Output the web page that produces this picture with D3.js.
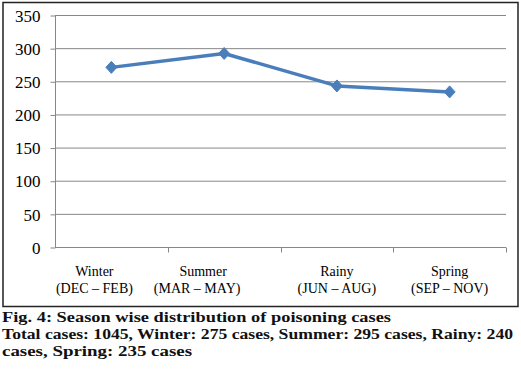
<!DOCTYPE html>
<html>
<head>
<meta charset="utf-8">
<script src="https://cdn.jsdelivr.net/npm/d3@7"></script>
<style>
  html, body { margin: 0; padding: 0; background: #fff; }
  svg { display: block; }
</style>
</head>
<body>
<svg id="chart" width="521" height="378"></svg>
<script>
// ---- data ----
const seasons = ["Winter", "Summer", "Rainy", "Spring"];
const monthRanges = ["(DEC \u2013 FEB)", "(MAR \u2013 MAY)", "(JUN \u2013 AUG)", "(SEP \u2013 NOV)"];
const cases = [271, 292, 243, 234];
const yTicks = [0, 50, 100, 150, 200, 250, 300, 350];
const captionLines = [
  "Fig. 4: Season wise distribution of poisoning cases",
  "Total cases: 1045, Winter: 275 cases, Summer: 295 cases, Rainy: 240",
  "cases, Spring: 235 cases"
];

// ---- layout ----
const SERIF = '"Liberation Serif", "Times New Roman", Tinos, serif';
const svg = d3.select("#chart");
const plot = { left: 55, right: 506, top: 15, bottom: 247 };
const lineColor = "#4a7ebb";
const gridColor = "#878787";

// outer frame
svg.append("rect")
  .attr("x", 3).attr("y", 2.5).attr("width", 515).attr("height", 304)
  .attr("fill", "none").attr("stroke", "#222").attr("stroke-width", 1.5);

const x = d3.scaleBand().domain(seasons).range([plot.left, plot.right]).padding(0);
const y = d3.scaleLinear().domain([0, 350]).range([plot.bottom, plot.top]);

// gridlines
svg.append("g").selectAll("line").data(yTicks.filter(d => d > 0)).join("line")
  .attr("x1", plot.left).attr("x2", plot.right)
  .attr("y1", d => y(d) + 0.5).attr("y2", d => y(d) + 0.5)
  .attr("stroke", gridColor).attr("stroke-width", 1);

// y axis
const yAxis = d3.axisLeft(y).tickValues(yTicks).tickSize(5).tickPadding(10);
const gy = svg.append("g").attr("transform", `translate(${plot.left + 0.5},0.5)`).call(yAxis);
gy.select(".domain").attr("stroke", gridColor).attr("d", `M0,${y(350)}V${y(0)}`);
gy.selectAll(".tick line").attr("stroke", gridColor);
gy.selectAll(".tick text")
  .style("font-family", SERIF).style("font-size", "17px")
  .attr("fill", "#000").attr("dy", "0.34em");

// x axis (ticks at category boundaries)
const gx = svg.append("g").attr("transform", `translate(0,${plot.bottom + 0.5})`);
gx.append("line").attr("x1", plot.left).attr("x2", plot.right)
  .attr("stroke", gridColor).attr("stroke-width", 1);
const boundaries = seasons.map(s => x(s)).concat([x(seasons[seasons.length - 1]) + x.bandwidth()]);
gx.selectAll("line.tk").data(boundaries.slice(1)).join("line").attr("class", "tk")
  .attr("x1", d => Math.round(d) + 0.5).attr("x2", d => Math.round(d) + 0.5)
  .attr("y1", 0).attr("y2", 5).attr("stroke", gridColor);

// category labels
const labelShift = [-17, -27, 0, 0];
const labels = svg.append("g")
  .style("font-family", SERIF).style("font-size", "14px")
  .attr("fill", "#000").attr("text-anchor", "middle");
seasons.forEach((s, i) => {
  const cx = x(s) + x.bandwidth() / 2;
  labels.append("text").attr("x", cx + labelShift[i] + (i === 1 ? 6 : 0)).attr("y", 276).text(s);
  labels.append("text").attr("x", cx + labelShift[i]).attr("y", 293).text(monthRanges[i]);
});

// line
const pts = seasons.map((s, i) => [x(s) + x.bandwidth() / 2, y(cases[i])]);
svg.append("path")
  .attr("d", d3.line()(pts))
  .attr("fill", "none").attr("stroke", lineColor).attr("stroke-width", 3.5)
  .attr("stroke-linejoin", "round");

// diamond markers
svg.append("g").selectAll("path").data(pts).join("path")
  .attr("transform", d => `translate(${d[0]},${d[1]})`)
  .attr("d", "M0,-6L5.5,0L0,6L-5.5,0Z")
  .attr("fill", lineColor).attr("stroke", lineColor).attr("stroke-width", 1);

// caption
const capLens = [389, 511, 190];
svg.append("g").selectAll("text").data(captionLines).join("text")
  .style("font-family", SERIF).style("font-size", "15px").style("font-weight", "bold")
  .attr("x", 2).attr("y", (d, i) => 322 + i * 17)
  .attr("fill", "#111")
  .attr("textLength", (d, i) => capLens[i]).attr("lengthAdjust", "spacingAndGlyphs")
  .text(d => d);
</script>
</body>
</html>
